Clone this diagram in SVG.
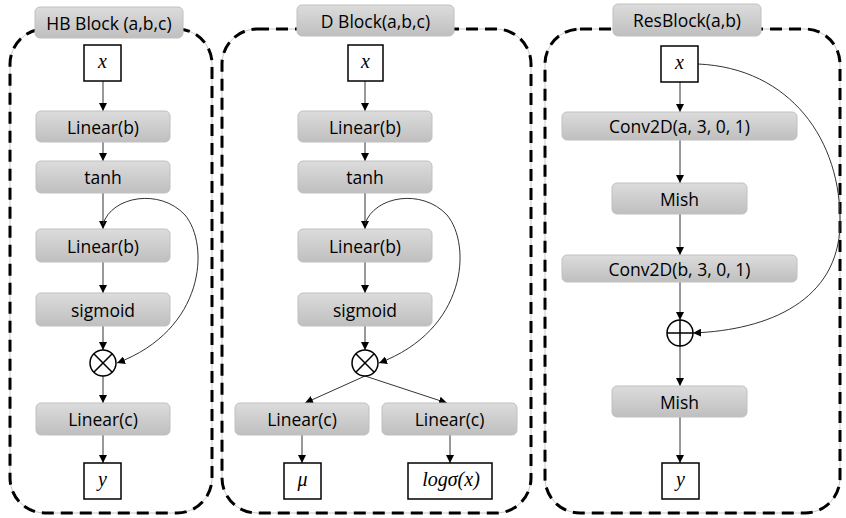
<svg xmlns="http://www.w3.org/2000/svg" width="846" height="518" viewBox="0 0 846 518">
<defs>
<linearGradient id="g" x1="0" y1="0" x2="0" y2="1">
<stop offset="0" stop-color="#dcdcdc"/>
<stop offset="1" stop-color="#bfbfbf"/>
</linearGradient>
<marker id="ah" viewBox="0 0 10 10" refX="10" refY="5" markerWidth="8" markerHeight="8" markerUnits="userSpaceOnUse" orient="auto">
<path d="M0,0 L10,5 L0,10 z" fill="#000"/>
</marker>
<style>
.frame-under{fill:none;stroke:#c8c8c8;stroke-width:1}
.frame{fill:none;stroke:#000;stroke-width:3;stroke-dasharray:12 7}
.op rect{fill:url(#g);stroke:#c0c0c0;stroke-width:1}
.op text,.title text{font-family:"Open Sans","Liberation Sans",sans-serif;font-size:17.5px;fill:#000;text-anchor:middle;dominant-baseline:central}
.title rect{fill:url(#g);stroke:#c0c0c0;stroke-width:1}
.var rect{fill:#fff;stroke:#000;stroke-width:1.5}
.var text{font-family:"Liberation Serif","DejaVu Serif",serif;font-style:italic;font-size:20px;fill:#000;text-anchor:middle;dominant-baseline:central}
.sym circle,.sym path{fill:#fff;stroke:#000;stroke-width:1.5}
.conn line,.conn path{fill:none;stroke:#333;stroke-width:1;marker-end:url(#ah)}
</style>
</defs>
<rect width="846" height="518" fill="#fff"/>

<g id="frames">
<rect class="frame-under" x="10" y="29" width="202" height="484" rx="35"/>
<rect class="frame" x="10" y="29" width="202" height="484" rx="35"/>
<rect class="frame-under" x="222" y="29" width="309" height="484" rx="35"/>
<rect class="frame" x="222" y="29" width="309" height="484" rx="35"/>
<rect class="frame-under" x="545" y="29" width="295" height="484" rx="35"/>
<rect class="frame" x="545" y="29" width="295" height="484" rx="35"/>
</g>

<g id="connectors" class="conn">
<line x1="103" y1="81" x2="103" y2="111"/>
<line x1="103" y1="142" x2="103" y2="161"/>
<line x1="103" y1="193" x2="103" y2="229"/>
<line x1="103" y1="262" x2="103" y2="293"/>
<line x1="103" y1="326" x2="103" y2="350"/>
<line x1="103" y1="376" x2="103" y2="403"/>
<line x1="103" y1="435" x2="103" y2="463"/>
<path d="M103,224 C112,196 160,188 185,215 C210,245 205,330 117,363"/>

<line x1="365" y1="81" x2="365" y2="111"/>
<line x1="365" y1="142" x2="365" y2="161"/>
<line x1="365" y1="193" x2="365" y2="229"/>
<line x1="365" y1="262" x2="365" y2="293"/>
<line x1="365" y1="326" x2="365" y2="350"/>
<path d="M365,224 C374,196 422,188 447,215 C472,245 467,330 379,363"/>
<line x1="365" y1="376" x2="305" y2="403"/>
<line x1="365" y1="376" x2="447" y2="403"/>
<line x1="302" y1="435" x2="302" y2="463"/>
<line x1="450" y1="435" x2="450" y2="463"/>

<line x1="680" y1="82" x2="680" y2="112"/>
<line x1="680" y1="140" x2="680" y2="183"/>
<line x1="680" y1="214" x2="680" y2="255"/>
<line x1="680" y1="282" x2="680" y2="320"/>
<line x1="680" y1="346" x2="680" y2="386"/>
<line x1="680" y1="417" x2="680" y2="463"/>
<path d="M698,64 C790,68 842,140 840,225 C838,300 770,330 693,333"/>
</g>

<g id="hb-title" class="title"><rect x="35" y="7" width="148" height="31" rx="5"/><text x="109" y="22.5">HB Block (a,b,c)</text></g>
<g id="hb-x" class="var"><rect x="84" y="45" width="37" height="36"/><text x="102.5" y="61">x</text></g>
<g id="hb-linear1" class="op"><rect x="36" y="111" width="134" height="31" rx="5"/><text x="103" y="126.5">Linear(b)</text></g>
<g id="hb-tanh" class="op"><rect x="36" y="161" width="134" height="32" rx="5"/><text x="103" y="177">tanh</text></g>
<g id="hb-linear2" class="op"><rect x="36" y="229" width="134" height="33" rx="5"/><text x="103" y="245.5">Linear(b)</text></g>
<g id="hb-sigmoid" class="op"><rect x="36" y="293" width="134" height="33" rx="5"/><text x="103" y="309.5">sigmoid</text></g>
<g id="hb-mul" class="sym"><circle cx="103" cy="363" r="13"/><path d="M93.8,353.8 L112.2,372.2 M112.2,353.8 L93.8,372.2"/></g>
<g id="hb-linear3" class="op"><rect x="36" y="403" width="134" height="32" rx="5"/><text x="103" y="419">Linear(c)</text></g>
<g id="hb-y" class="var"><rect x="84" y="463" width="37" height="36"/><text x="102.5" y="479">y</text></g>

<g id="d-title" class="title"><rect x="297" y="5" width="157" height="31" rx="5"/><text x="375.5" y="20.5">D Block(a,b,c)</text></g>
<g id="d-x" class="var"><rect x="348" y="45" width="35" height="36"/><text x="365.5" y="61">x</text></g>
<g id="d-linear1" class="op"><rect x="298" y="111" width="134" height="31" rx="5"/><text x="365" y="126.5">Linear(b)</text></g>
<g id="d-tanh" class="op"><rect x="298" y="161" width="134" height="32" rx="5"/><text x="365" y="177">tanh</text></g>
<g id="d-linear2" class="op"><rect x="298" y="229" width="134" height="33" rx="5"/><text x="365" y="245.5">Linear(b)</text></g>
<g id="d-sigmoid" class="op"><rect x="298" y="293" width="134" height="33" rx="5"/><text x="365" y="309.5">sigmoid</text></g>
<g id="d-mul" class="sym"><circle cx="365" cy="363" r="13"/><path d="M355.8,353.8 L374.2,372.2 M374.2,353.8 L355.8,372.2"/></g>
<g id="d-linear-mu" class="op"><rect x="235" y="403" width="134" height="32" rx="5"/><text x="302" y="419">Linear(c)</text></g>
<g id="d-linear-sigma" class="op"><rect x="382" y="403" width="135" height="32" rx="5"/><text x="449.5" y="419">Linear(c)</text></g>
<g id="d-mu" class="var"><rect x="284" y="463" width="37" height="36"/><text x="302.5" y="479">μ</text></g>
<g id="d-logsigma" class="var"><rect x="408" y="463" width="84" height="36"/><text x="451" y="479">logσ(x)</text></g>

<g id="res-title" class="title"><rect x="613" y="4" width="148" height="32" rx="5"/><text x="687" y="20">ResBlock(a,b)</text></g>
<g id="res-x" class="var"><rect x="661" y="46" width="37" height="36"/><text x="679.5" y="62">x</text></g>
<g id="res-conv1" class="op"><rect x="562" y="112" width="235" height="28" rx="5"/><text x="679.5" y="126">Conv2D(a, 3, 0, 1)</text></g>
<g id="res-mish1" class="op"><rect x="612" y="183" width="135" height="31" rx="5"/><text x="679.5" y="198.5">Mish</text></g>
<g id="res-conv2" class="op"><rect x="562" y="255" width="235" height="27" rx="5"/><text x="679.5" y="268.5">Conv2D(b, 3, 0, 1)</text></g>
<g id="res-add" class="sym"><circle cx="680" cy="333" r="13"/><path d="M667,333 L693,333 M680,320 L680,346"/></g>
<g id="res-mish2" class="op"><rect x="612" y="386" width="135" height="31" rx="5"/><text x="679.5" y="401.5">Mish</text></g>
<g id="res-y" class="var"><rect x="662" y="463" width="37" height="36"/><text x="680.5" y="479">y</text></g>
</svg>
